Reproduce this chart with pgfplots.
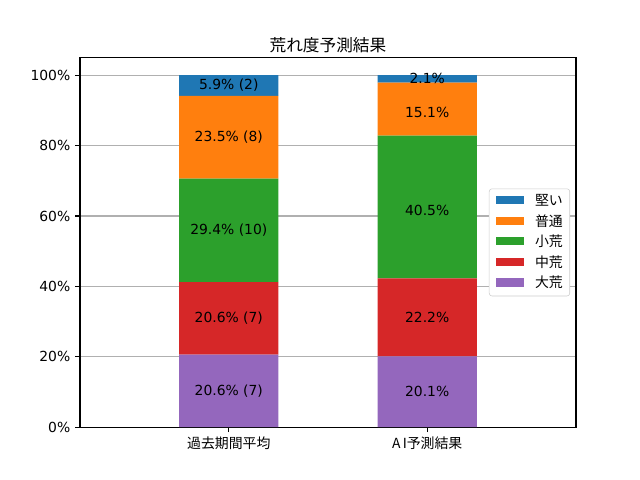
\documentclass[border=0pt]{standalone}
\usepackage{fontspec}
\setmainfont{DejaVu Sans}
\newfontfamily\jp{Noto Sans CJK JP}
\usepackage{pgfplots}
\pgfplotsset{compat=1.18}
\definecolor{cblue}{HTML}{1F77B4}
\definecolor{corange}{HTML}{FF7F0E}
\definecolor{cgreen}{HTML}{2CA02C}
\definecolor{cred}{HTML}{D62728}
\definecolor{cpurple}{HTML}{9467BD}
\definecolor{cgrid}{HTML}{B0B0B0}
\definecolor{cleg}{HTML}{CCCCCC}
\begin{document}
\begin{tikzpicture}
\path[use as bounding box] (0,0) rectangle (460.8pt,345.6pt);
\begin{axis}[
  at={(57.6pt,38.02pt)}, anchor=south west,
  scale only axis, width=357.12pt, height=266.11pt,
  ybar stacked, bar width=0.5,
  xmin=-0.75, xmax=1.75, ymin=0, ymax=105,
  xtick={0,1}, xticklabels={{\jp 過去期間平均}, {\jp A\,I予測結果}},
  ytick={0,20,40,60,80,100},
  yticklabel={\pgfmathprintnumber{\tick}\%},
  /pgf/number format/assume math mode=true,
  ymajorgrids, grid style={color=cgrid, line width=0.8pt},
  axis line style={line width=0.8pt},
  tick style={black, line width=0.8pt}, major tick length=3.5pt,
  tick align=outside, xtick pos=bottom, ytick pos=left,
  ticklabel style={font=\fontsize{10}{12}\selectfont},
  title={\jp 荒れ度予測結果},
  title style={font=\fontsize{12}{14}\selectfont, yshift=-6pt},
  reverse legend,
  legend style={at={(0.988,0.5)}, anchor=east, draw=cleg, rounded corners=2pt,
    fill=white, inner xsep=5pt, inner ysep=4pt,
    font=\fontsize{10}{12}\selectfont\jp, row sep=4.8pt,
    nodes={inner sep=0pt, text height=8pt, text depth=2pt},
    /tikz/every odd column/.append style={column sep=8pt}},
  legend cell align=left,
  legend image code/.code={\fill[#1, sharp corners] (0pt,-2.2pt) rectangle (20pt,3.8pt);},
  every axis plot/.append style={draw=none},
]
\addplot[fill=cpurple] coordinates {(0,20.6) (1,20.1)}; \addlegendentry{大荒}
\addplot[fill=cred] coordinates {(0,20.6) (1,22.2)}; \addlegendentry{中荒}
\addplot[fill=cgreen] coordinates {(0,29.4) (1,40.5)}; \addlegendentry{小荒}
\addplot[fill=corange] coordinates {(0,23.5) (1,15.1)}; \addlegendentry{普通}
\addplot[fill=cblue] coordinates {(0,5.9) (1,2.1)}; \addlegendentry{堅い}
\end{axis}
\begin{axis}[
  at={(57.6pt,38.02pt)}, anchor=south west,
  scale only axis, width=357.12pt, height=266.11pt,
  xmin=-0.75, xmax=1.75, ymin=0, ymax=105, hide axis,
]
\addplot[draw=none, mark=none, nodes near coords, point meta=explicit symbolic,
  nodes near coords align={center},
  every node near coord/.append style={font=\fontsize{10}{12}\selectfont, text=black, inner sep=0pt}]
  coordinates {
  (0,10.3)[20.6\% (7)]
  (0,30.9)[20.6\% (7)]
  (0,55.9)[29.4\% (10)]
  (0,82.35)[23.5\% (8)]
  (0,97.05)[5.9\% (2)]
  (1,10.05)[20.1\%]
  (1,31.2)[22.2\%]
  (1,61.55)[40.5\%]
  (1,89.35)[15.1\%]
  (1,98.95)[2.1\%]
  };
\end{axis}
\end{tikzpicture}
\end{document}
